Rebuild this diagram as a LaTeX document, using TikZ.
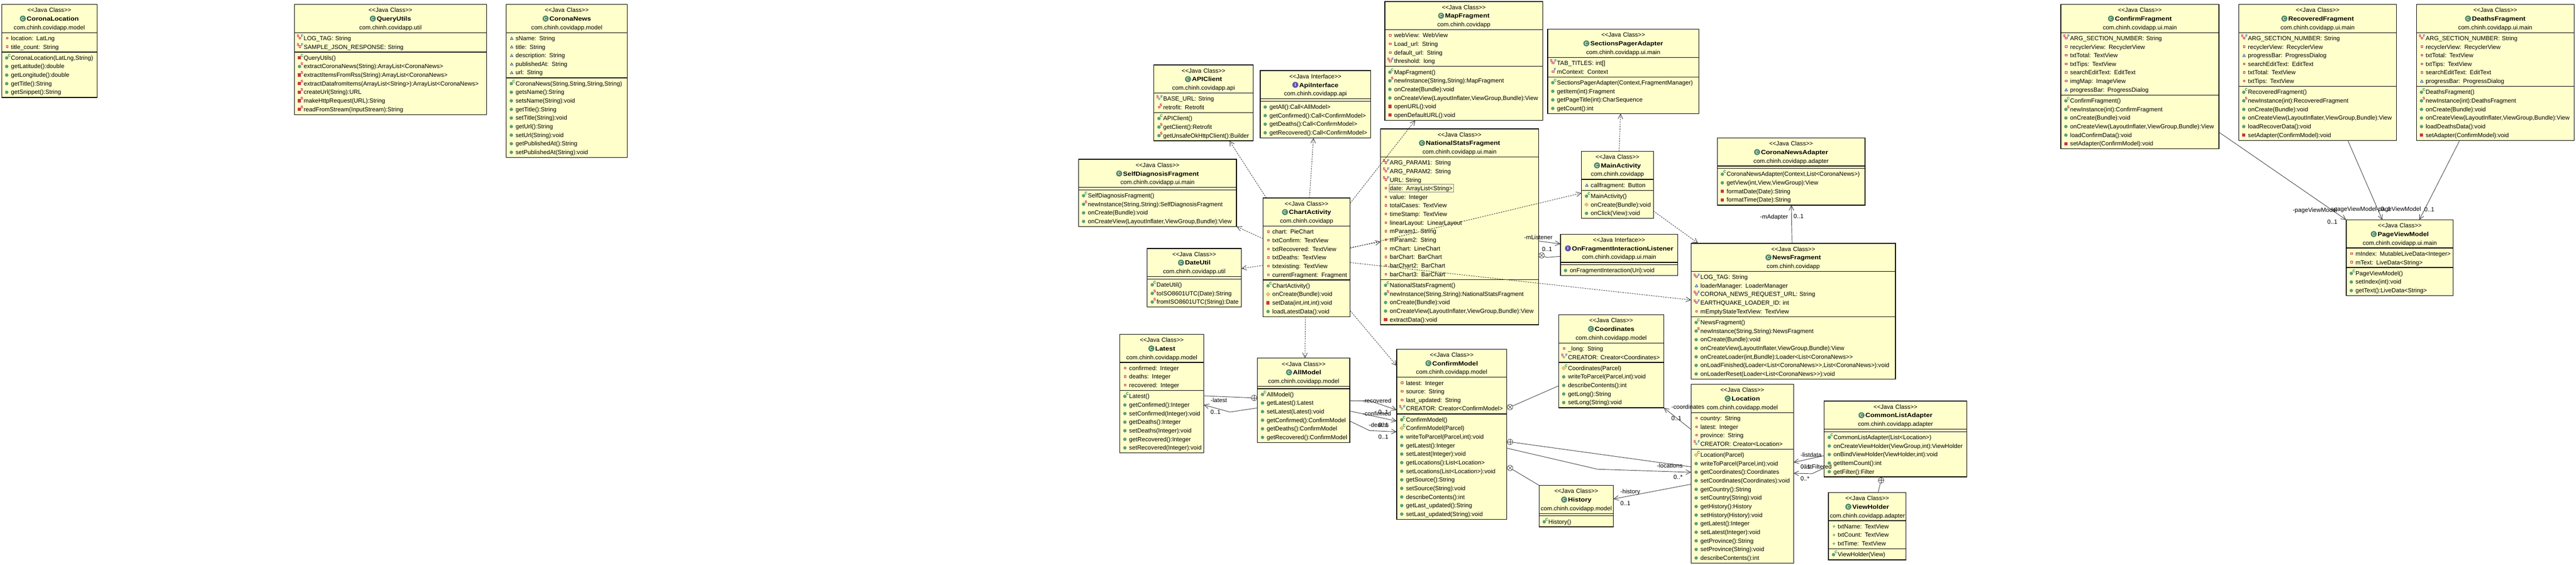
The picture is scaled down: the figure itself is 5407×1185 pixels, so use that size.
\documentclass[tikz,border=0pt]{standalone}
\usepackage{fontspec}
\newfontfamily\umlfont{Liberation Sans}
\newfontfamily\titlefont[FakeStretch=1.13]{Liberation Sans}
\usetikzlibrary{arrows.meta,shapes.multipart}
\definecolor{umlFill}{RGB}{255,255,204}
\definecolor{iconGreen}{RGB}{92,160,122}
\definecolor{iconRed}{RGB}{200,50,70}
\definecolor{iconBlue}{RGB}{40,90,170}
\definecolor{iconOrange}{RGB}{240,205,120}
\definecolor{iconPurple}{RGB}{95,85,180}
\definecolor{markS}{RGB}{200,16,76}
\definecolor{markF}{RGB}{50,90,210}
\definecolor{markC}{RGB}{30,130,70}
%icons
\newcommand{\mkCircle}{\tikz\fill[iconGreen](0,0)circle(3.6pt);}
\newcommand{\mkSquare}{\tikz\fill[iconRed](0,0)rectangle(6.6pt,6.8pt);}
\newcommand{\mkDiamond}{\tikz\draw[draw=iconOrange!70!black,fill=iconOrange,line width=.5pt](-4pt,0)--(0,3.8pt)--(4pt,0)--(0,-3.8pt)--cycle;}
\newcommand{\mkField}{\tikz\draw[draw=iconRed,fill=iconRed!15,line width=1pt](0,0)rectangle(3.6pt,3.6pt);}
\newcommand{\mkTri}{\tikz\draw[draw=iconBlue,fill=iconBlue!15,line width=1pt](0,0)--(5.6pt,0)--(2.8pt,5pt)--cycle;}
\newcommand{\mkRing}{\tikz\draw[draw=iconGreen,fill=iconGreen!15,line width=1pt](0,0)circle(2pt);}
\newcommand{\layer}[3]{\rlap{\kern#1pt\raisebox{#2pt}{#3}}}
\newcommand{\mkLetter}[2]{\textcolor{#1}{\fontsize{8}{8}\selectfont\bfseries #2}}
\newcommand{\urow}[2]{\noindent\hbox{\rule[-4pt]{0pt}{18pt}\makebox[16.6pt][l]{#1}#2}\par}
%methods
\newcommand{\uPub}[1]{\urow{\layer{4}{.7}{\mkCircle}}{#1}}
\newcommand{\uPri}[1]{\urow{\layer{4.4}{1}{\mkSquare}}{#1}}
\newcommand{\uPro}[1]{\urow{\layer{3.4}{.5}{\mkDiamond}}{#1}}
\newcommand{\uCto}[1]{\urow{\layer{4}{.7}{\mkCircle}\layer{10}{6.5}{\mkLetter{markC}{C}}}{#1}}
\newcommand{\uCpr}[1]{\urow{\layer{4.4}{1}{\mkSquare}\layer{10}{6.5}{\mkLetter{markC}{C}}}{#1}}
\newcommand{\uCpo}[1]{\urow{\layer{3.4}{.5}{\mkDiamond}\layer{10}{6.5}{\mkLetter{markC}{C}}}{#1}}
\newcommand{\uSpu}[1]{\urow{\layer{4}{.7}{\mkCircle}\layer{10}{6.5}{\mkLetter{markS}{S}}}{#1}}
\newcommand{\uSpr}[1]{\urow{\layer{4.4}{1}{\mkSquare}\layer{10}{6.5}{\mkLetter{markS}{S}}}{#1}}
%fields
\newcommand{\fPri}[1]{\urow{\layer{6}{2.5}{\mkField}}{#1}}
\newcommand{\fPkg}[1]{\urow{\layer{5}{1.5}{\mkTri}}{#1}}
\newcommand{\fPub}[1]{\urow{\layer{6}{2}{\mkRing}}{#1}}
\newcommand{\fSta}[1]{\urow{\layer{6}{2.5}{\mkField}\layer{9}{6}{\mkLetter{markS}{S}}}{#1}}
\newcommand{\fFin}[1]{\urow{\layer{6}{2.5}{\mkField}\layer{10}{6}{\mkLetter{markF}{F}}}{#1}}
\newcommand{\fSfp}[1]{\urow{\layer{6}{2.5}{\mkField}\layer{2}{6}{\mkLetter{markS}{S}}\layer{11}{6}{\mkLetter{markF}{F}}}{#1}}
\newcommand{\fSfg}[1]{\urow{\layer{5.5}{2}{\mkRing}\layer{2}{6}{\mkLetter{markS}{S}}\layer{11}{6}{\mkLetter{markF}{F}}}{#1}}
%heads
\newcommand{\uline}[1]{\noindent\hbox to \hsize{\hfil\rule[-4pt]{0pt}{18pt}#1\hfil}\par}
\newcommand{\badge}[2]{\rlap{\raisebox{-1.5pt}{\tikz\fill[#1](0,0)circle(6.3pt);}}\makebox[12.6pt]{\raisebox{1.4pt}{\textcolor{white}{\fontsize{9}{9}\selectfont\bfseries #2}}}\kern2pt}
\newcommand{\uClass}[2]{\uline{<<Java Class>>}\uline{\badge{iconGreen!85!black}{C}{\titlefont\bfseries #1}}\uline{#2}}
\newcommand{\uIface}[2]{\uline{<<Java Interface>>}\uline{\badge{iconPurple}{I}{\titlefont\bfseries #1}}\uline{#2}}
\tikzset{
  umlbox/.style={rectangle split,rectangle split parts=3,draw=black,fill=umlFill,line width=1.4pt,
    anchor=north west,inner xsep=3pt,inner ysep=1.8pt,outer sep=0pt,text width=#1pt-6pt,
    rectangle split empty part height=0pt,rectangle split empty part depth=0pt,rectangle split empty part width=0pt,
    font=\umlfont\fontsize{12.6}{18}\selectfont},
  dep/.style={-{Straight Barb[length=10pt,width=10pt,line width=1pt]},line width=1pt,black!75,dash pattern=on 3pt off 2pt},
  assoc/.style={-{Straight Barb[length=10pt,width=10pt,line width=1pt]},line width=1pt,black!75},
  nestline/.style={line width=1pt,black!75},
  nestplus/.style={circle,draw=black!75,line width=.8pt,fill=white,minimum size=12pt,inner sep=0pt,path picture={
    \draw[black!75,line width=.8pt](path picture bounding box.north)--(path picture bounding box.south)
      (path picture bounding box.west)--(path picture bounding box.east);}},
  nestcross/.style={circle,draw=black!75,line width=.8pt,fill=white,minimum size=12pt,inner sep=0pt,path picture={
    \draw[black!75,line width=.8pt](path picture bounding box.north west)--(path picture bounding box.south east)
      (path picture bounding box.south west)--(path picture bounding box.north east);}},
  lab/.style={anchor=west,inner sep=0pt,text height=9.3pt,text depth=0pt,font=\umlfont\fontsize{12.6}{13}\selectfont}
}
\begin{document}
\begin{tikzpicture}[x=1pt,y=-1pt]
  \useasboundingbox (0,0) rectangle (5407,1185);
  %left row
  \node[umlbox=200] (coronaLoc) at (3.5,9.3) {\uClass{CoronaLocation}{com.chinh.covidapp.model}
    \nodepart{two}\fPri{location: LatLng}\fPri{title\_count: String}
    \nodepart{three}\uCto{CoronaLocation(LatLng,String)}\uPub{getLatitude():double}\uPub{getLongitude():double}\uPub{getTitle():String}\uPub{getSnippet():String}};
  \node[umlbox=403] (queryUtils) at (618,9.3) {\uClass{QueryUtils}{com.chinh.covidapp.util}
    \nodepart{two}\fSfp{LOG\_TAG: String}\fSfp{SAMPLE\_JSON\_RESPONSE: String}
    \nodepart{three}\uCpr{QueryUtils()}\uSpu{extractCoronaNews(String):ArrayList<CoronaNews>}\uSpr{extractItemsFromRss(String):ArrayList<CoronaNews>}\uSpr{extractDatafromItems(ArrayList<String>):ArrayList<CoronaNews>}\uSpr{createUrl(String):URL}\uSpr{makeHttpRequest(URL):String}\uSpr{readFromStream(InputStream):String}};
  \node[umlbox=254] (coronaNews) at (1062.7,9.3) {\uClass{CoronaNews}{com.chinh.covidapp.model}
    \nodepart{two}\fPkg{sName: String}\fPkg{title: String}\fPkg{description: String}\fPkg{publishedAt: String}\fPkg{url: String}
    \nodepart{three}\uCto{CoronaNews(String,String,String,String)}\uPub{getsName():String}\uPub{setsName(String):void}\uPub{getTitle():String}\uPub{setTitle(String):void}\uPub{getUrl():String}\uPub{setUrl(String):void}\uPub{getPublishedAt():String}\uPub{setPublishedAt(String):void}};
  %api
  \node[umlbox=208.5] (apiClient) at (2422,136.3) {\uClass{APIClient}{com.chinh.covidapp.api}
    \nodepart{two}\fSfg{BASE\_URL: String}\fSta{retrofit: Retrofit}
    \nodepart{three}\uCto{APIClient()}\uSpu{getClient():Retrofit}\uSpu{getUnsafeOkHttpClient():Builder}};
  \node[umlbox=232] (apiIface) at (2645,148.3) {\uIface{ApiInterface}{com.chinh.covidapp.api}
    \nodepart{two}
    \nodepart{three}\uPub{getAll():Call<AllModel>}\uPub{getConfirmed():Call<ConfirmModel>}\uPub{getDeaths():Call<ConfirmModel>}\uPub{getRecovered():Call<ConfirmModel>}};
  \node[umlbox=331.7] (mapFrag) at (2906.7,3.3) {\uClass{MapFragment}{com.chinh.covidapp}
    \nodepart{two}\fPri{webView: WebView}\fPri{Load\_url: String}\fPri{default\_url: String}\fSfp{threshold: long}
    \nodepart{three}\uCto{MapFragment()}\uSpu{newInstance(String,String):MapFragment}\uPub{onCreate(Bundle):void}\uPub{onCreateView(LayoutInflater,ViewGroup,Bundle):View}\uPri{openURL():void}\uPri{openDefaultURL():void}};
  \node[umlbox=331.6] (selfDiag) at (2263.8,334.3) {\uClass{SelfDiagnosisFragment}{com.chinh.covidapp.ui.main}
    \nodepart{two}
    \nodepart{three}\uCto{SelfDiagnosisFragment()}\uSpu{newInstance(String,String):SelfDiagnosisFragment}\uPub{onCreate(Bundle):void}\uPub{onCreateView(LayoutInflater,ViewGroup,Bundle):View}};
  \node[umlbox=197.6] (dateUtil) at (2408,521.3) {\uClass{DateUtil}{com.chinh.covidapp.util}
    \nodepart{two}
    \nodepart{three}\uCto{DateUtil()}\uSpu{toISO8601UTC(Date):String}\uSpu{fromISO8601UTC(String):Date}};
  \node[umlbox=183] (chart) at (2651,415.3) {\uClass{ChartActivity}{com.chinh.covidapp}
    \nodepart{two}\fPri{chart: PieChart}\fPri{txtConfirm: TextView}\fPri{txtRecovered: TextView}\fPri{txtDeaths: TextView}\fPri{txtexisting: TextView}\fPri{currentFragment: Fragment}
    \nodepart{three}\uCto{ChartActivity()}\uPro{onCreate(Bundle):void}\uPri{setData(int,int,int):void}\uPub{loadLatestData():void}};
  \node[umlbox=331.8] (natStats) at (2897.7,270.3) {\uClass{NationalStatsFragment}{com.chinh.covidapp.ui.main}
    \nodepart{two}\fSfp{ARG\_PARAM1: String}\fSfp{ARG\_PARAM2: String}\fSfp{URL: String}\fPri{date: ArrayList<String>}\fPri{value: Integer}\fPri{totalCases: TextView}\fPri{timeStamp: TextView}\fPri{linearLayout: LinearLayout}\fPri{mParam1: String}\fPri{mParam2: String}\fPri{mChart: LineChart}\fPri{barChart: BarChart}\fPri{barChart2: BarChart}\fPri{barChart3: BarChart}
    \nodepart{three}\uCto{NationalStatsFragment()}\uSpu{newInstance(String,String):NationalStatsFragment}\uPub{onCreate(Bundle):void}\uPub{onCreateView(LayoutInflater,ViewGroup,Bundle):View}\uPri{extractData():void}};
  %main
  \node[umlbox=317] (sections) at (3248.6,61.3) {\uClass{SectionsPagerAdapter}{com.chinh.covidapp.ui.main}
    \nodepart{two}\fSfp{TAB\_TITLES: int[]}\fFin{mContext: Context}
    \nodepart{three}\uCto{SectionsPagerAdapter(Context,FragmentManager)}\uPub{getItem(int):Fragment}\uPub{getPageTitle(int):CharSequence}\uPub{getCount():int}};
  \node[umlbox=151.2] (mainAct) at (3319.4,317.3) {\uClass{MainActivity}{com.chinh.covidapp}
    \nodepart{two}\fPkg{callfragment: Button}
    \nodepart{three}\uCto{MainActivity()}\uPro{onCreate(Bundle):void}\uPub{onClick(View):void}};
  \node[umlbox=310] (newsAdapter) at (3604.5,289.3) {\uClass{CoronaNewsAdapter}{com.chinh.covidapp.adapter}
    \nodepart{two}
    \nodepart{three}\uCto{CoronaNewsAdapter(Context,List<CoronaNews>)}\uPub{getView(int,View,ViewGroup):View}\uPri{formatDate(Date):String}\uPri{formatTime(Date):String}};
  \node[umlbox=246.2] (listener) at (3275.4,491.3) {\uIface{OnFragmentInteractionListener}{com.chinh.covidapp.ui.main}
    \nodepart{two}
    \nodepart{three}\uPub{onFragmentInteraction(Uri):void}};
  \node[umlbox=428.7] (newsFrag) at (3549.6,510.3) {\uClass{NewsFragment}{com.chinh.covidapp}
    \nodepart{two}\fSfp{LOG\_TAG: String}\fPkg{loaderManager: LoaderManager}\fSfp{CORONA\_NEWS\_REQUEST\_URL: String}\fSfp{EARTHQUAKE\_LOADER\_ID: int}\fPri{mEmptyStateTextView: TextView}
    \nodepart{three}\uCto{NewsFragment()}\uSpu{newInstance(String,String):NewsFragment}\uPub{onCreate(Bundle):void}\uPub{onCreateView(LayoutInflater,ViewGroup,Bundle):View}\uPub{onCreateLoader(int,Bundle):Loader<List<CoronaNews>>}\uPub{onLoadFinished(Loader<List<CoronaNews>>,List<CoronaNews>):void}\uPub{onLoaderReset(Loader<List<CoronaNews>>):void}};
  %model
  \node[umlbox=176.1] (latest) at (2350.5,701.3) {\uClass{Latest}{com.chinh.covidapp.model}
    \nodepart{two}\fPri{confirmed: Integer}\fPri{deaths: Integer}\fPri{recovered: Integer}
    \nodepart{three}\uCto{Latest()}\uPub{getConfirmed():Integer}\uPub{setConfirmed(Integer):void}\uPub{getDeaths():Integer}\uPub{setDeaths(Integer):void}\uPub{getRecovered():Integer}\uPub{setRecovered(Integer):void}};
  \node[umlbox=193.9] (allModel) at (2639.4,751.3) {\uClass{AllModel}{com.chinh.covidapp.model}
    \nodepart{two}
    \nodepart{three}\uCto{AllModel()}\uPub{getLatest():Latest}\uPub{setLatest(Latest):void}\uPub{getConfirmed():ConfirmModel}\uPub{getDeaths():ConfirmModel}\uPub{getRecovered():ConfirmModel}};
  \node[umlbox=230.8] (confirmModel) at (2931.6,732.3) {\uClass{ConfirmModel}{com.chinh.covidapp.model}
    \nodepart{two}\fPri{latest: Integer}\fPri{source: String}\fPri{last\_updated: String}\fSfg{CREATOR: Creator<ConfirmModel>}
    \nodepart{three}\uCto{ConfirmModel()}\uCpo{ConfirmModel(Parcel)}\uPub{writeToParcel(Parcel,int):void}\uPub{getLatest():Integer}\uPub{setLatest(Integer):void}\uPub{getLocations():List<Location>}\uPub{setLocations(List<Location>):void}\uPub{getSource():String}\uPub{setSource(String):void}\uPub{describeContents():int}\uPub{getLast\_updated():String}\uPub{setLast\_updated(String):void}};
  \node[umlbox=220.6] (coords) at (3271.6,660.3) {\uClass{Coordinates}{com.chinh.covidapp.model}
    \nodepart{two}\fPri{\_long: String}\fSfg{CREATOR: Creator<Coordinates>}
    \nodepart{three}\uCpo{Coordinates(Parcel)}\uPub{writeToParcel(Parcel,int):void}\uPub{describeContents():int}\uPub{getLong():String}\uPub{setLong(String):void}};
  \node[umlbox=215] (location) at (3549.6,806.3) {\uClass{Location}{com.chinh.covidapp.model}
    \nodepart{two}\fPri{country: String}\fPri{latest: Integer}\fPri{province: String}\fSfg{CREATOR: Creator<Location>}
    \nodepart{three}\uCpo{Location(Parcel)}\uPub{writeToParcel(Parcel,int):void}\uPub{getCoordinates():Coordinates}\uPub{setCoordinates(Coordinates):void}\uPub{getCountry():String}\uPub{setCountry(String):void}\uPub{getHistory():History}\uPub{setHistory(History):void}\uPub{getLatest():Integer}\uPub{setLatest(Integer):void}\uPub{getProvince():String}\uPub{setProvince(String):void}\uPub{describeContents():int}};
  \node[umlbox=155.7] (history) at (3230.7,1018.3) {\uClass{History}{com.chinh.covidapp.model}
    \nodepart{two}
    \nodepart{three}\uCto{History()}};
  \node[umlbox=299.2] (listAdapter) at (3829,841.3) {\uClass{CommonListAdapter}{com.chinh.covidapp.adapter}
    \nodepart{two}
    \nodepart{three}\uCto{CommonListAdapter(List<Location>)}\uPub{onCreateViewHolder(ViewGroup,int):ViewHolder}\uPub{onBindViewHolder(ViewHolder,int):void}\uPub{getItemCount():int}\uPub{getFilter():Filter}};
  \node[umlbox=162.7] (viewHolder) at (3837.9,1033.3) {\uClass{ViewHolder}{com.chinh.covidapp.adapter}
    \nodepart{two}\fPub{txtName: TextView}\fPub{txtCount: TextView}\fPub{txtTime: TextView}
    \nodepart{three}\uCto{ViewHolder(View)}};
  %fragments
  \node[umlbox=331.9] (confirmFrag) at (4325.6,9.3) {\uClass{ConfirmFragment}{com.chinh.covidapp.ui.main}
    \nodepart{two}\fSfp{ARG\_SECTION\_NUMBER: String}\fPri{recyclerView: RecyclerView}\fPri{txtTotal: TextView}\fPri{txtTips: TextView}\fPri{searchEditText: EditText}\fPri{imgMap: ImageView}\fPkg{progressBar: ProgressDialog}
    \nodepart{three}\uCto{ConfirmFragment()}\uSpu{newInstance(int):ConfirmFragment}\uPub{onCreate(Bundle):void}\uPub{onCreateView(LayoutInflater,ViewGroup,Bundle):View}\uPub{loadConfirmData():void}\uPri{setAdapter(ConfirmModel):void}};
  \node[umlbox=331.3] (recFrag) at (4699,9.3) {\uClass{RecoveredFragment}{com.chinh.covidapp.ui.main}
    \nodepart{two}\fSfp{ARG\_SECTION\_NUMBER: String}\fPri{recyclerView: RecyclerView}\fPkg{progressBar: ProgressDialog}\fPri{searchEditText: EditText}\fPri{txtTotal: TextView}\fPri{txtTips: TextView}
    \nodepart{three}\uCto{RecoveredFragment()}\uSpu{newInstance(int):RecoveredFragment}\uPub{onCreate(Bundle):void}\uPub{onCreateView(LayoutInflater,ViewGroup,Bundle):View}\uPub{loadRecoverData():void}\uPri{setAdapter(ConfirmModel):void}};
  \node[umlbox=331] (deathFrag) at (5072,9.3) {\uClass{DeathsFragment}{com.chinh.covidapp.ui.main}
    \nodepart{two}\fSfp{ARG\_SECTION\_NUMBER: String}\fPri{recyclerView: RecyclerView}\fPri{txtTotal: TextView}\fPri{txtTips: TextView}\fPri{searchEditText: EditText}\fPkg{progressBar: ProgressDialog}
    \nodepart{three}\uCto{DeathsFragment()}\uSpu{newInstance(int):DeathsFragment}\uPub{onCreate(Bundle):void}\uPub{onCreateView(LayoutInflater,ViewGroup,Bundle):View}\uPub{loadDeathsData():void}\uPri{setAdapter(ConfirmModel):void}};
  \node[umlbox=224.7] (pageVM) at (4924.7,461.3) {\uClass{PageViewModel}{com.chinh.covidapp.ui.main}
    \nodepart{two}\fPri{mIndex: MutableLiveData<Integer>}\fPri{mText: LiveData<String>}
    \nodepart{three}\uCto{PageViewModel()}\uPub{setIndex(int):void}\uPub{getText():LiveData<String>}};
  %selected row
  \draw[black!50,line width=1pt] (2915.6,386.7) rectangle (3051.4,402.3);
  %dependencies
  \draw[dep] ([xshift=7pt]chart.north west)--([xshift=158.5pt]apiClient.south west);
  \draw[dep] ([xshift=97.5pt]chart.north west)--([xshift=112pt]apiIface.south west);
  \draw[dep] ([yshift=-11pt]chart.north east)--([xshift=64pt]mapFrag.south west);
  \draw[dep] ([yshift=-85.4pt]chart.north west)--(selfDiag.south east);
  \draw[dep] ([yshift=-141.4pt]chart.north west)--([yshift=-42pt]dateUtil.north east);
  \draw[dep] ([yshift=-104pt]chart.north east)--([yshift=-237pt]natStats.north west);
  \draw[dep] ([yshift=-105.4pt]chart.north east)--([yshift=-87.7pt]mainAct.north west);
  \draw[dep] ([yshift=-135.4pt]chart.north east)--([yshift=-119pt]newsFrag.north west);
  \draw[dep] ([xshift=89pt]chart.south west)--([xshift=99.6pt]allModel.north west);
  \draw[dep] ([yshift=-236.4pt]chart.north east)--([yshift=-35pt]confirmModel.north west);
  \draw[dep] ([xshift=79pt]mainAct.north west)--([xshift=153pt]sections.south west);
  \draw[dep] ([yshift=-125.4pt]mainAct.north east)--([xshift=14.7pt]newsFrag.north west);
  %bends
  \coordinate (bendListener) at (3246.7,540);
  \coordinate (bendLatest) at (2581.4,864.3);
  \coordinate (bendRecovered) at (2876,841);
  \coordinate (bendDeaths) at (2874.8,903.3);
  \coordinate (bendLocations) at (3353.2,984.3);
  \coordinate (bendFiltered) at (3803.5,993.7);
  %associations
  \draw[assoc] ([xshift=211.8pt]newsFrag.north west)--([xshift=155.5pt]newsAdapter.south west);
  \draw[assoc] ([yshift=-235.4pt]natStats.north east)--([yshift=-20.4pt]listener.north west);
  \draw[assoc] ([yshift=-104.4pt]allModel.north west)--(bendLatest)--([yshift=-148pt]latest.north east);
  \draw[assoc] ([yshift=-89.4pt]allModel.north east)--(bendRecovered)--([yshift=-127.7pt]confirmModel.north west);
  \draw[assoc] ([yshift=-111pt]allModel.north east)--([yshift=-151pt]confirmModel.north west);
  \draw[assoc] ([yshift=-132pt]allModel.north east)--(bendDeaths)--([yshift=-173.4pt]confirmModel.north west);
  \draw[assoc] ([yshift=-207.7pt]confirmModel.north east)--(bendLocations)--([yshift=-184.4pt]location.north west);
  \draw[assoc] ([yshift=-94.7pt]location.north west)--(coords.south east);
  \draw[assoc] ([yshift=-209.4pt]location.north west)--([yshift=-28.4pt]history.north east);
  \draw[assoc] ([yshift=-114.4pt]listAdapter.north west)--([yshift=-163.7pt]location.north east);
  \draw[assoc] ([yshift=-140.4pt]listAdapter.north west)--(bendFiltered)--([yshift=-186.4pt]location.north east);
  \draw[assoc] ([yshift=-268pt]confirmFrag.north east)--(pageVM.north west);
  \draw[assoc] ([xshift=228.9pt]recFrag.south west)--([xshift=75.8pt]pageVM.north west);
  \draw[assoc] ([xshift=91pt]deathFrag.south west)--([xshift=153.3pt]pageVM.north west);
  %nesting
  \node[nestcross] (nestListener) at (3235.8,535.7) {};
  \node[nestplus] (nestLatest) at (2632.4,834.7) {};
  \node[nestcross] (nestCoords) at (3169.5,854) {};
  \node[nestplus] (nestLocation) at (3169.5,927) {};
  \node[nestcross] (nestHistory) at (3169.5,981.7) {};
  \node[nestplus] (nestHolder) at (3948.3,1007.7) {};
  \draw[nestline] ([yshift=-46.4pt]listener.north west)--(bendListener)--(nestListener);
  \draw[nestline] ([yshift=-129pt]latest.north east)--(nestLatest);
  \draw[nestline] ([yshift=-149pt]coords.north west)--(nestCoords);
  \draw[nestline] ([yshift=-173pt]location.north west)--(nestLocation);
  \draw[nestline] (history.north west)--(nestHistory);
  \draw[nestline] ([xshift=104pt]viewHolder.north west)--(nestHolder);
  %labels
  \node[lab] (labAdapter) at (3694,454) {-mAdapter};
  \node[lab] (mulAdapter) at (3764.6,453) {0..1};
  \node[lab] (labListener) at (3199,498) {-mListener};
  \node[lab] (mulListener) at (3236.5,522) {0..1};
  \node[lab] (labLatest) at (2541,839.7) {-latest};
  \node[lab] (mulLatest) at (2540.6,864.3) {0..1};
  \node[lab] (labRecovered) at (2860,840.7) {-recovered};
  \node[lab] (mulRecovered) at (2893,864.3) {0..1};
  \node[lab] (labConfirmed) at (2860,868) {-confirmed};
  \node[lab] (mulConfirmed) at (2893,891.7) {0..1};
  \node[lab] (labDeaths) at (2873,891.7) {-deaths};
  \node[lab] (mulDeaths) at (2893,916.3) {0..1};
  \node[lab] (labCoords) at (3508,853) {-coordinates};
  \node[lab] (mulCoords) at (3508,877) {0..1};
  \node[lab] (labLocations) at (3477.6,976.7) {-locations};
  \node[lab] (mulLocations) at (3512.6,1001) {0..*};
  \node[lab] (labHistory) at (3401,1030.7) {-history};
  \node[lab] (mulHistory) at (3401,1055.7) {0..1};
  \node[lab] (labListdata) at (3779,953.7) {-listdata};
  \node[lab] (mulListdata) at (3779,979) {0..1};
  \node[lab] (labFiltered) at (3783,979) {-listFiltered};
  \node[lab] (mulFiltered) at (3779,1004) {0..*};
  \node[lab] (labPageA) at (4812.3,440.7) {-pageViewModel};
  \node[lab] (mulPageA) at (4884.9,465.3) {0..1};
  \node[lab] (labPageB) at (4894.5,438.7) {-pageViewModel};
  \node[lab] (mulPageB) at (4997,438.7) {0..1};
  \node[lab] (labPageC) at (4987.6,438.7) {-pageViewModel};
  \node[lab] (mulPageC) at (5088.4,439.3) {0..1};
\end{tikzpicture}
\end{document}
